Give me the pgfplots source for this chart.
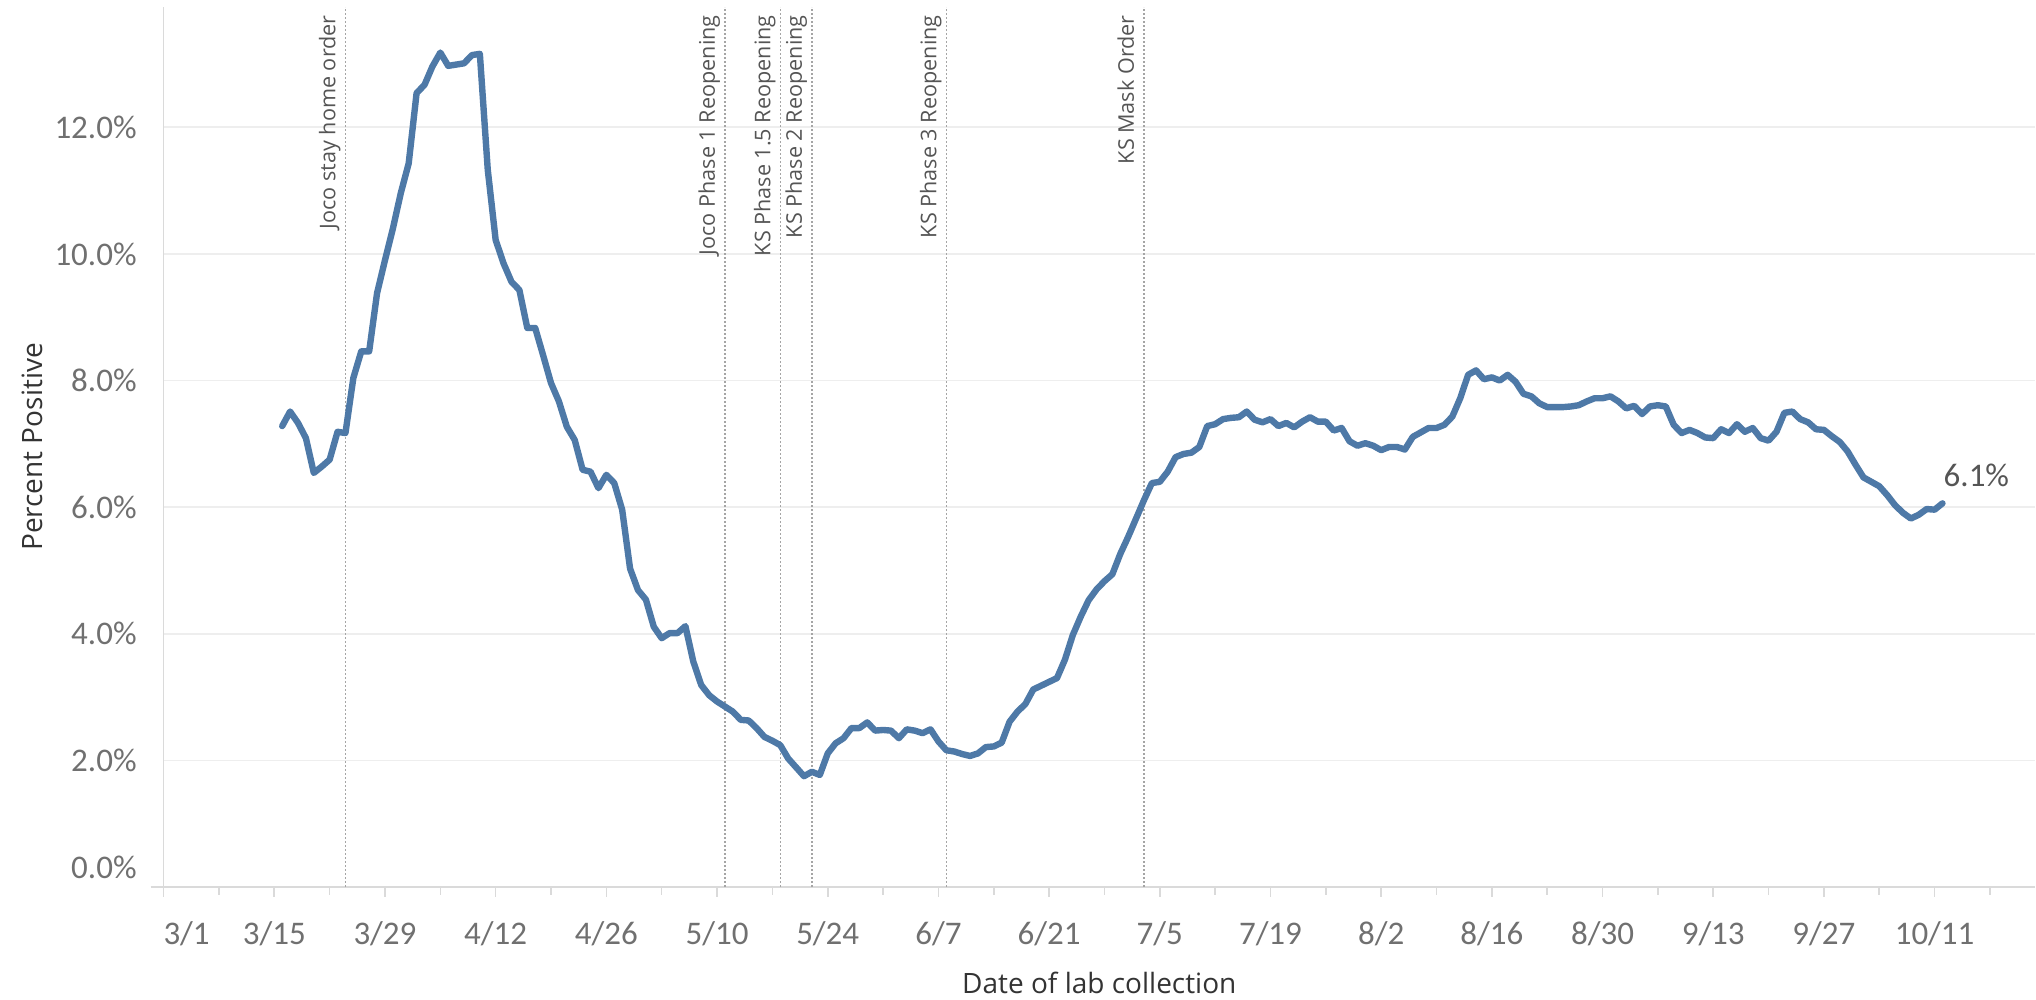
\documentclass[border=0pt]{standalone}
\usepackage{fontspec}
\setmainfont{Open Sans}
\newfontfamily\tickfont{Carlito}
\usepackage{pgfplots}
\pgfplotsset{compat=1.18}

\definecolor{lineblue}{HTML}{4E79A7}
\definecolor{gridgray}{HTML}{EEEEEE}
\definecolor{axisgray}{HTML}{DADADA}
\definecolor{ticktext}{HTML}{707070}
\definecolor{notetext}{HTML}{555555}
\definecolor{labeltext}{HTML}{333333}
\definecolor{eventgray}{HTML}{A5A5A5}

% days since 3/1, percent positive
\pgfplotstableread{
day pct
15 7.28
16 7.51
17 7.33
18 7.09
19 6.54
20 6.64
21 6.75
22 7.19
23 7.17
24 8.04
25 8.46
26 8.46
27 9.38
28 9.90
29 10.40
30 10.96
31 11.43
32 12.54
33 12.67
34 12.96
35 13.18
36 12.97
37 12.99
38 13.01
39 13.14
40 13.16
41 11.33
42 10.22
43 9.85
44 9.56
45 9.43
46 8.83
47 8.83
48 8.40
49 7.96
50 7.67
51 7.27
52 7.06
53 6.59
54 6.56
55 6.30
56 6.51
57 6.38
58 5.96
59 5.03
60 4.69
61 4.54
62 4.11
63 3.93
64 4.01
65 4.01
66 4.12
67 3.56
68 3.19
69 3.03
70 2.93
71 2.85
72 2.77
73 2.64
74 2.63
75 2.51
76 2.37
77 2.31
78 2.24
79 2.03
80 1.89
81 1.75
82 1.82
83 1.77
84 2.11
85 2.27
86 2.35
87 2.51
88 2.51
89 2.60
90 2.47
91 2.48
92 2.47
93 2.35
94 2.49
95 2.47
96 2.43
97 2.49
98 2.30
99 2.16
100 2.14
101 2.10
102 2.07
103 2.11
104 2.21
105 2.22
106 2.28
107 2.61
108 2.77
109 2.89
110 3.12
111 3.18
112 3.24
113 3.30
114 3.59
115 3.98
116 4.27
117 4.53
118 4.70
119 4.83
120 4.94
121 5.26
122 5.53
123 5.82
124 6.11
125 6.38
126 6.40
127 6.56
128 6.79
129 6.84
130 6.86
131 6.95
132 7.28
133 7.31
134 7.39
135 7.41
136 7.42
137 7.51
138 7.38
139 7.34
140 7.39
141 7.28
142 7.33
143 7.26
144 7.35
145 7.42
146 7.35
147 7.35
148 7.21
149 7.25
150 7.04
151 6.97
152 7.01
153 6.97
154 6.90
155 6.95
156 6.95
157 6.91
158 7.11
159 7.18
160 7.25
161 7.25
162 7.30
163 7.43
164 7.72
165 8.09
166 8.16
167 8.02
168 8.05
169 8.00
170 8.09
171 7.98
172 7.79
173 7.75
174 7.64
175 7.58
176 7.58
177 7.58
178 7.59
179 7.61
180 7.67
181 7.72
182 7.72
183 7.75
184 7.67
185 7.56
186 7.60
187 7.47
188 7.59
189 7.61
190 7.59
191 7.30
192 7.17
193 7.22
194 7.17
195 7.10
196 7.09
197 7.23
198 7.17
199 7.31
200 7.19
201 7.25
202 7.09
203 7.05
204 7.19
205 7.49
206 7.51
207 7.39
208 7.34
209 7.23
210 7.22
211 7.12
212 7.03
213 6.88
214 6.67
215 6.47
216 6.40
217 6.33
218 6.19
219 6.03
220 5.91
221 5.82
222 5.88
223 5.97
224 5.96
225 6.06
}\positivity

\newcommand{\eventline}[2]{%
  \draw[eventgray, line width=0.6pt, dash pattern=on 0.8pt off 1.2pt]
    (axis cs:#1,0) -- (axis cs:#1,13.9);
  \path (axis cs:#1,13.9) ++(-5pt,-4pt)
    node[rotate=90, anchor=base east, inner sep=0pt,
         font=\fontsize{10.8}{12}\selectfont, text=notetext] {#2};
}

\begin{document}
\begin{tikzpicture}
\path[use as bounding box] (0,0) rectangle (1018pt,500pt);
\begin{axis}[
  at={(81.8pt,56.5pt)}, anchor=south west,
  scale only axis, width=935.7pt, height=440pt,
  xmin=0, xmax=236.7, ymin=0, ymax=13.9,
  clip=false,
  axis x line=bottom, axis y line=left,
  x axis line style={-, draw=axisgray, line width=0.8pt, shorten <=-6.5pt},
  y axis line style={-, draw=axisgray, line width=0.8pt},
  tick align=outside,
  major tick length=5pt, minor tick length=4pt,
  xtick style={draw=axisgray, line width=0.8pt},
  ytick style={draw=none},
  xtick={14,28,...,224},
  xticklabels={3/15,3/29,4/12,4/26,5/10,5/24,6/7,6/21,7/5,7/19,8/2,8/16,8/30,9/13,9/27,10/11},
  minor xtick={7,21,...,231},
  extra x ticks={0}, extra x tick labels={3/1},
  extra x tick style={xticklabel style={xshift=11.5pt}},
  ytick={2,4,...,12},
  yticklabels={2.0\%,4.0\%,6.0\%,8.0\%,10.0\%,12.0\%},
  extra y ticks={0}, extra y tick labels={0.0\%},
  extra y tick style={grid=none, yticklabel style={yshift=10pt}},
  ymajorgrids,
  major grid style={draw=gridgray, line width=0.8pt},
  xticklabel style={font=\tickfont\fontsize{16.5}{16.5}\selectfont, text=ticktext,
    inner sep=0pt, anchor=center, yshift=-18.5pt},
  yticklabel style={font=\tickfont\fontsize{16.5}{16.5}\selectfont, text=ticktext,
    inner sep=0pt, anchor=east, xshift=-8.3pt},
  xlabel={Date of lab collection},
  xlabel style={at={(axis description cs:0.5,-0.1091)}, anchor=center,
    font=\fontsize{14}{14}\selectfont, text=labeltext},
  ylabel={Percent Positive},
  ylabel style={at={(axis description cs:-0.0703,0.5)}, anchor=center,
    font=\fontsize{14}{14}\selectfont, text=labeltext},
]
\eventline{23}{Joco stay home order}
\eventline{71}{Joco Phase 1 Reopening}
\eventline{78}{KS Phase 1.5 Reopening}
\eventline{82}{KS Phase 2 Reopening}
\eventline{99}{KS Phase 3 Reopening}
\eventline{124}{KS Mask Order}
\addplot[lineblue, line width=3.2pt, line join=round, line cap=round, mark=none]
  table[x=day, y=pct] {\positivity};
\node[anchor=base west, inner sep=0pt, font=\tickfont\fontsize{16.5}{16.5}\selectfont,
  text=notetext] at (axis cs:225.1,6.32) {6.1\%};
\end{axis}
\end{tikzpicture}
\end{document}
